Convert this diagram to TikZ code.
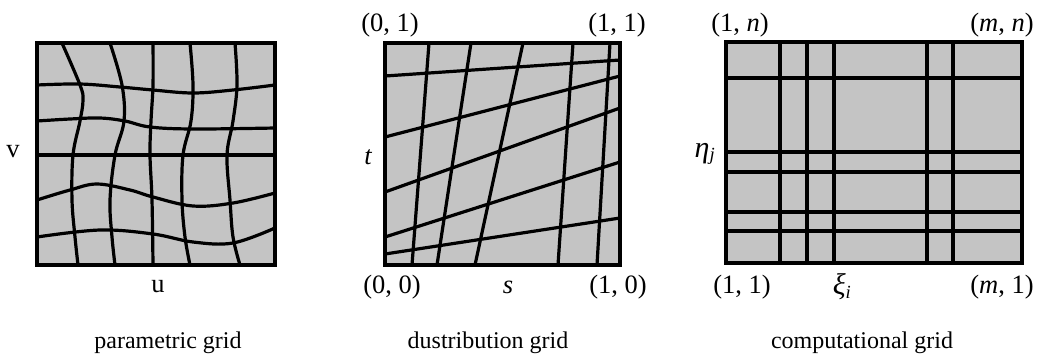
\documentclass[tikz,border=0pt]{standalone}
\usepackage{fontspec}
\setmainfont{Liberation Serif}
\definecolor{gridfill}{RGB}{196,196,196}
\tikzset{
  gbox/.style={draw=black, fill=gridfill, line width=3.2bp},
  gline/.style={draw=black, line width=3.2bp, line cap=round},
  lab/.style={inner sep=0pt, font=\fontsize{26.5bp}{30bp}\selectfont},
  captext/.style={inner sep=0pt, font=\fontsize{24bp}{28bp}\selectfont}
}
\begin{document}
\begin{tikzpicture}[x=1bp,y=-1bp]
\useasboundingbox (0,0) rectangle (1043,356);
% ---------- parametric grid ----------
\draw[gbox] (37,43) rectangle (275,265);
\begin{scope}
\clip (37,43) rectangle (275,265);
\draw[gline] plot[smooth,tension=0.6] coordinates {(37,85) (80,84) (120,87) (153,90) (193,93) (233,90) (275,85)};
\draw[gline] plot[smooth,tension=0.6] coordinates {(37,121) (70,119) (100,118) (125,121) (150,127) (193,129) (275,128)};
\draw[gline] (37,155) -- (275,155);
\draw[gline] plot[smooth,tension=0.6] coordinates {(37,200) (70,190) (97,184) (130,190) (153,197) (193,206) (233,203) (275,193)};
\draw[gline] plot[smooth,tension=0.6] coordinates {(37,237) (100,230) (153,234) (193,242) (233,243) (275,228)};
\draw[gline] plot[smooth,tension=0.6] coordinates {(62,43) (80,85) (83,100) (80,121) (73,155) (72,200) (75,237) (78,265)};
\draw[gline] plot[smooth,tension=0.6] coordinates {(110,43) (122,85) (124,121) (115,155) (110,200) (112,237) (115,265)};
\draw[gline] plot[smooth,tension=0.6] coordinates {(153,43) (153,85) (151,121) (150,155) (152,200) (153,265)};
\draw[gline] plot[smooth,tension=0.6] coordinates {(190,43) (193,85) (191,121) (183,155) (182,200) (185,237) (190,265)};
\draw[gline] plot[smooth,tension=0.6] coordinates {(235,43) (237,85) (233,121) (227,155) (230,200) (233,237) (240,265)};
\end{scope}
\draw[gbox, fill=none] (37,43) rectangle (275,265);
\node[lab] (v) at (13,152) {v};
\node[lab] (u) at (158,287) {u};
\node[captext] (c1) at (168,343) {parametric grid};
% ---------- distribution grid ----------
\draw[gbox] (385,43) rectangle (620,265);
\draw[gline] (385,76) -- (620,60);
\draw[gline] (385,137) -- (620,76);
\draw[gline] (385,192) -- (620,108);
\draw[gline] (385,237) -- (620,162);
\draw[gline] (385,254) -- (620,218);
\draw[gline] (429,43) -- (412,265);
\draw[gline] (471,43) -- (437,265);
\draw[gline] (523,43) -- (475,265);
\draw[gline] (573,43) -- (558,265);
\draw[gline] (610,43) -- (597,265);
\draw[gbox, fill=none] (385,43) rectangle (620,265);
\node[lab] (d01) at (390,25) {(0, 1)};
\node[lab] (d11) at (617,25) {(1, 1)};
\node[lab] (t) at (368,157) {\itshape t};
\node[lab] (d00) at (392,287) {(0, 0)};
\node[lab] (s) at (508,287) {\itshape s};
\node[lab] (d10) at (618,287) {(1, 0)};
\node[captext] (c2) at (488,343) {dustribution grid};
% ---------- computational grid ----------
\draw[gbox] (726,42) rectangle (1022,263);
\foreach \xx in {780,807,834,927,953} \draw[gline] (\xx,42) -- (\xx,263);
\foreach \yy in {78,152,172,212,231} \draw[gline] (726,\yy) -- (1022,\yy);
\draw[gbox, fill=none] (726,42) rectangle (1022,263);
\node[lab] (c1n) at (740,25) {(1, \textit{n})};
\node[lab] (cmn) at (1002,25) {(\textit{m}, \textit{n})};
\node[lab] (eta) at (705,154) {{\fontsize{30bp}{30bp}\selectfont\textit{η}}\textsubscript{\textit{j}}};
\node[lab] (c11) at (742,287) {(1, 1)};
\node[lab] (xi) at (842,287) {{\fontsize{30bp}{30bp}\selectfont\textit{ξ}}\textsubscript{\textit{i}}};
\node[lab] (cm1) at (1002,287) {(\textit{m}, 1)};
\node[captext] (c3) at (862,343) {computational grid};
\end{tikzpicture}
\end{document}
